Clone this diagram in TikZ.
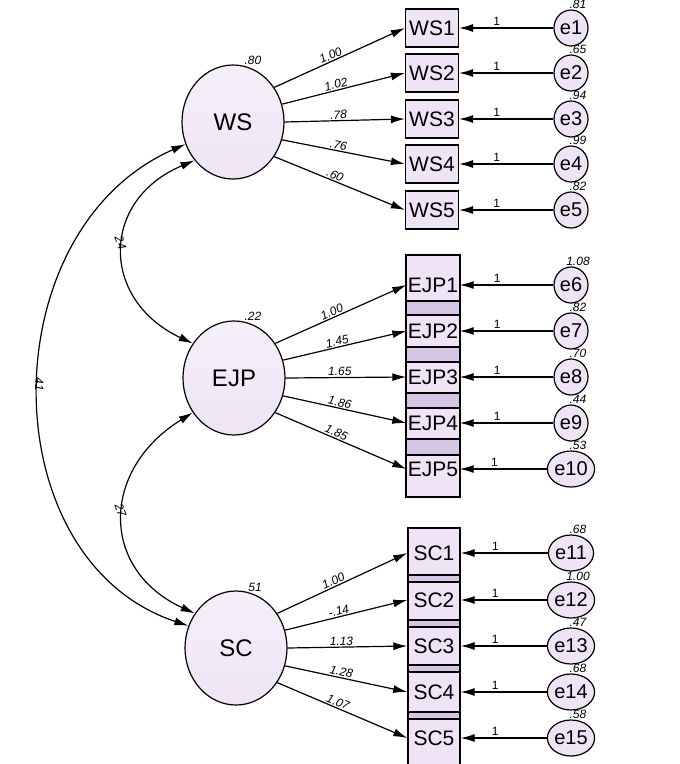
\documentclass[tikz,border=0pt]{standalone}
\usepackage{fontspec}
\setmainfont{Liberation Sans}
\usetikzlibrary{arrows.meta, shapes.geometric, positioning}
\definecolor{lav}{RGB}{238,228,245}
\definecolor{lavdark}{RGB}{214,198,230}
\tikzset{
  latent/.style={ellipse, draw, line width=1.2pt, minimum width=102pt, minimum height=114pt, top color=lav!60!white, bottom color=lav, font=\fontsize{24}{24}\selectfont},
  obs/.style={rectangle, draw, line width=1.2pt, minimum width=53pt, minimum height=38pt, inner sep=0pt, fill=lav, font=\fontsize{21}{21}\selectfont},
  obsin/.style={rectangle, minimum width=53pt, minimum height=30pt, inner sep=0pt, font=\fontsize{21}{21}\selectfont},
  err/.style={ellipse, draw, line width=1.2pt, minimum width=34pt, minimum height=36pt, inner sep=0pt, fill=lav, font=\fontsize{20}{20}\selectfont},
  num/.style={font=\itshape\fontsize{12}{12}\selectfont, inner sep=1pt},
  one/.style={font=\fontsize{12}{12}\selectfont, inner sep=2pt},
  load/.style={-{Latex[length=14pt,width=8pt]}, line width=1.2pt},
  cov/.style={{Latex[length=14pt,width=8pt]}-{Latex[length=14pt,width=8pt]}, line width=1.2pt}
}
\begin{document}
\begin{tikzpicture}[x=1pt,y=-1pt]
  \useasboundingbox (0,0) rectangle (680,764);
  % latent factors
  \node[latent] (WS) at (233,122) {WS};
  \node[latent] (EJP) at (234,378) {EJP};
  \node[latent] (SC) at (236,648) {SC};
  \node[num] at (253,60) {.80};
  \node[num] at (253,316) {.22};
  \node[num] at (255,587) {51};

  % WS items
  \foreach \i/\y/\v in {1/28/.81, 2/73/.65, 3/119/.94, 4/164/.99, 5/210/.82} {
    \node[obs] (WS\i) at (432,\y) {WS\i};
    \node[err] (e\i) at (571,\y) {e\i};
    \node[num] at (578,\y-24) {\v};
    \draw[load] (e\i) -- node[above, one, pos=0.6] {1} (WS\i);
  }

  % EJP column
  \draw[line width=1.2pt, fill=lav] (406,255) rectangle (460,497);
  \foreach \a/\b in {301/315, 347/362, 393/408, 439/455}
    \draw[line width=1.2pt, fill=lavdark] (406,\a) rectangle (460,\b);
  \foreach \i/\y/\e/\v in {1/285/6/1.08, 2/331/7/.82, 3/377/8/.70, 4/423/9/.44, 5/469/10/.53} {
    \node[obsin] (EJP\i) at (433,\y) {EJP\i};
    \node[err] (e\e) at (571,\y) {e\e};
    \node[num] at (578,\y-24) {\v};
    \draw[load] (e\e) -- node[above, one, pos=0.6] {1} (EJP\i);
  }

  % SC column
  \draw[line width=1.2pt, fill=lav] (408,528) rectangle (460,770);
  \foreach \a/\b in {575/582, 620/627, 665/672, 712/719}
    \draw[line width=1.2pt, fill=lavdark] (408,\a) rectangle (460,\b);
  \foreach \i/\y/\e/\v in {1/553/11/.68, 2/600/12/1.00, 3/646/13/.47, 4/692/14/.68, 5/738/15/.58} {
    \node[obsin] (SC\i) at (434,\y) {SC\i};
    \node[err] (e\e) at (571,\y) {e\e};
    \node[num] at (578,\y-24) {\v};
    \draw[load] (e\e) -- node[above, one, pos=0.6] {1} (SC\i);
  }

  % loadings
  \foreach \f/\l in {WS/{1.00,1.02,.78,.76,.60}, EJP/{1.00,1.45,1.65,1.86,1.85}, SC/{1.00,-.14,1.13,1.28,1.07}} {
    \foreach \v [count=\i] in \l {
      \pgfmathsetmacro{\ang}{40-20*(\i-1)}
      \draw[load] (\f.\ang) -- node[num, sloped, above, pos=0.45] {\v} (\f\i.west);
    }
  }

  % covariances
  \draw[cov] (WS.225) .. controls (100,200) and (100,300) .. node[num, left, rotate=-70] {24} (EJP.140);
  \draw[cov] (EJP.220) .. controls (100,470) and (100,570) .. node[num, left, rotate=-70] {27} (SC.140);
  \draw[cov] (WS.205) .. controls (-10,230) and (-10,560) .. node[num, left, rotate=-90] {41} (SC.155);
\end{tikzpicture}
\end{document}
